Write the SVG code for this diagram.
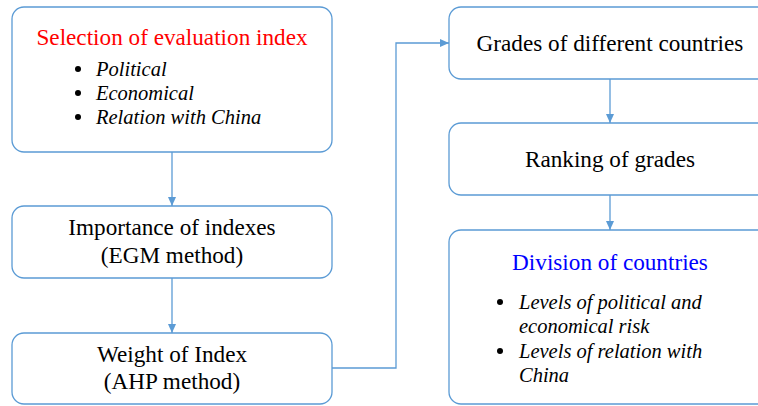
<svg xmlns="http://www.w3.org/2000/svg" width="758" height="406" viewBox="0 0 758 406">
<defs>
<marker id="ah" markerWidth="10" markerHeight="10" refX="9" refY="5" orient="auto" markerUnits="userSpaceOnUse">
<path d="M0,1 L9,5 L0,9 Z" fill="#5B9BD5"/>
</marker>
<style>
.box{fill:#fff;stroke:#5B9BD5;stroke-width:1.3}
text{font-family:'Liberation Serif','Times New Roman',Tinos,'DejaVu Serif',serif}
.t{font-size:23.2px;fill:#000}
.c{text-anchor:middle}
.i{font-size:20.5px;font-style:italic;fill:#000}
.dot{fill:#000}
.con{fill:none;stroke:#5B9BD5;stroke-width:1.3;marker-end:url(#ah)}
</style>
</defs>
<rect width="758" height="406" fill="#fff"/>
<g id="connectors">
<line class="con" x1="172" y1="152" x2="172" y2="206"/>
<line class="con" x1="172" y1="278" x2="172" y2="333"/>
<polyline class="con" points="332,368 396,368 396,43 449,43"/>
<line class="con" x1="610" y1="79" x2="610" y2="123"/>
<line class="con" x1="610" y1="195" x2="610" y2="230"/>
</g>
<g id="n1">
<rect class="box" x="12" y="7" width="320" height="145" rx="12"/>
<text class="t c" x="172" y="45" style="fill:#FF0000">Selection of evaluation index</text>
<circle class="dot" cx="78" cy="69" r="3"/><text class="i" x="96" y="76">Political</text>
<circle class="dot" cx="78" cy="93" r="3"/><text class="i" x="96" y="100">Economical</text>
<circle class="dot" cx="78" cy="117" r="3"/><text class="i" x="96" y="124">Relation with China</text>
</g>
<g id="n2">
<rect class="box" x="12" y="206" width="320" height="72" rx="12"/>
<text class="t c" x="172" y="235">Importance of indexes</text>
<text class="t c" x="172" y="263">(EGM method)</text>
</g>
<g id="n3">
<rect class="box" x="12" y="333" width="320" height="71" rx="12"/>
<text class="t c" x="172" y="362">Weight of Index</text>
<text class="t c" x="172" y="389">(AHP method)</text>
</g>
<g id="n4">
<rect class="box" x="449" y="7" width="330" height="72" rx="12"/>
<text class="t c" x="610" y="51">Grades of different countries</text>
</g>
<g id="n5">
<rect class="box" x="449" y="123" width="330" height="72" rx="12"/>
<text class="t c" x="610" y="167">Ranking of grades</text>
</g>
<g id="n6">
<rect class="box" x="449" y="230" width="330" height="174" rx="12"/>
<text class="t c" x="610" y="270" style="fill:#0000FF">Division of countries</text>
<circle class="dot" cx="500" cy="302" r="3"/><text class="i" x="519" y="309">Levels of political and</text>
<text class="i" x="519" y="333">economical risk</text>
<circle class="dot" cx="500" cy="351" r="3"/><text class="i" x="519" y="358">Levels of relation with</text>
<text class="i" x="519" y="382">China</text>
</g>
</svg>
